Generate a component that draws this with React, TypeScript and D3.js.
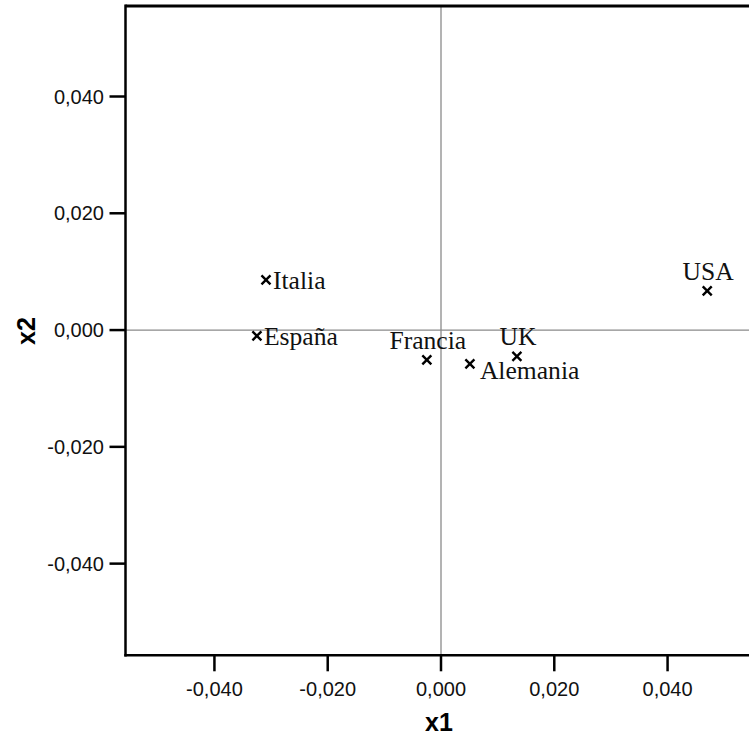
import React from "react";
import * as d3 from "d3";

const countries = ["Italia", "España", "Francia", "Alemania", "UK", "USA"];
const x1Values = [-0.0309, -0.0325, -0.0025, 0.0051, 0.0134, 0.047];
const x2Values = [0.0086, -0.001, -0.0051, -0.0058, -0.0045, 0.0067];
const labelSides = ["right", "right", "above", "belowRight", "above", "above"];
const xTicks = [-0.04, -0.02, 0, 0.02, 0.04];
const yTicks = [0.04, 0.02, 0, -0.02, -0.04];

const W = 749;
const H = 739;
const left = 125.5;
const right = 756.5;
const top = 6;
const bottom = 655.3;

const locale = d3.formatLocale({
  decimal: ",",
  thousands: ".",
  grouping: [3],
  currency: ["", "€"],
  minus: "-",
});
const fmt = locale.format(".3f");

export default function App() {
  const x = d3.scaleLinear().domain([-0.0557, 0.0557]).range([left, right]);
  const y = d3.scaleLinear().domain([-0.0557, 0.0555]).range([bottom, top]);

  const sans = "'Liberation Sans', Arial, sans-serif";
  const serif = "'Liberation Serif', 'Times New Roman', serif";
  const m = 4.5;

  return (
    <svg
      width={W}
      height={H}
      style={{ position: "absolute", left: 0, top: 0, background: "#fff" }}
    >
      {/* reference lines through the origin */}
      <line x1={x(0)} x2={x(0)} y1={top} y2={bottom} stroke="#8a8a8a" strokeWidth={1.3} />
      <line x1={left} x2={right} y1={y(0)} y2={y(0)} stroke="#8a8a8a" strokeWidth={1.3} />

      {/* frame */}
      <line x1={left} x2={right} y1={top} y2={top} stroke="#000" strokeWidth={3} />
      <line x1={left} x2={left} y1={top - 1.5} y2={bottom + 1.2} stroke="#000" strokeWidth={2.5} />
      <line x1={left - 1.2} x2={right} y1={bottom} y2={bottom} stroke="#000" strokeWidth={2.5} />

      {/* x axis */}
      {xTicks.map((t) => (
        <g key={"x" + t}>
          <line x1={x(t)} x2={x(t)} y1={bottom} y2={bottom + 16} stroke="#000" strokeWidth={2.5} />
          <text x={x(t)} y={696} textAnchor="middle" fontFamily={sans} fontSize={20} fill="#111">
            {fmt(t)}
          </text>
        </g>
      ))}
      <text x={439} y={731} textAnchor="middle" fontFamily={sans} fontSize={25} fontWeight="bold">
        x1
      </text>

      {/* y axis */}
      {yTicks.map((t) => (
        <g key={"y" + t}>
          <line x1={left - 16} x2={left} y1={y(t)} y2={y(t)} stroke="#000" strokeWidth={2.5} />
          <text
            x={104}
            y={y(t) + 7}
            textAnchor="end"
            fontFamily={sans}
            fontSize={20}
            fill="#111"
          >
            {fmt(t)}
          </text>
        </g>
      ))}
      <text
        transform={`translate(35, ${y(0) + 1}) rotate(-90)`}
        textAnchor="middle"
        fontFamily={sans}
        fontSize={25}
        fontWeight="bold"
      >
        x2
      </text>

      {/* points */}
      {countries.map((c, i) => {
        const px = x(x1Values[i]);
        const py = y(x2Values[i]);
        const side = labelSides[i];
        let tx = px + 7;
        let ty = py + 9;
        let anchor = "start";
        if (side === "above") {
          tx = px + 1;
          ty = py - 11;
          anchor = "middle";
        } else if (side === "belowRight") {
          tx = px + 10;
          ty = py + 15;
        }
        return (
          <g key={c}>
            <path
              d={`M${px - m},${py - m}L${px + m},${py + m}M${px - m},${py + m}L${px + m},${py - m}`}
              stroke="#000"
              strokeWidth={2.4}
              fill="none"
            />
            <text x={tx} y={ty} textAnchor={anchor} fontFamily={serif} fontSize={25.6} fill="#111">
              {c}
            </text>
          </g>
        );
      })}
    </svg>
  );
}
